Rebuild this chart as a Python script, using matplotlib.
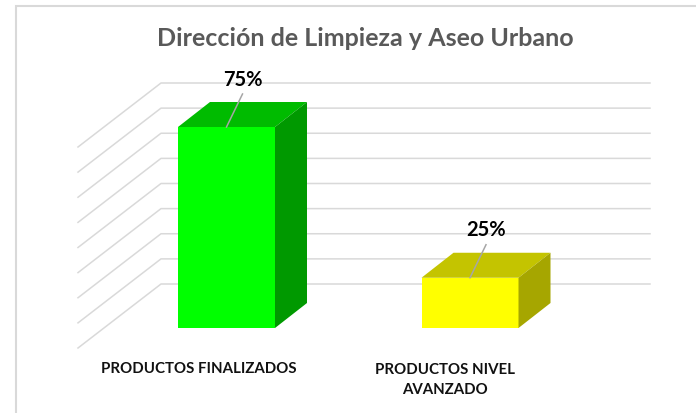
import matplotlib
matplotlib.use("Agg")
import matplotlib.pyplot as plt
from matplotlib.patches import Polygon
import numpy as np

categories = ["PRODUCTOS FINALIZADOS", "PRODUCTOS NIVEL\nAVANZADO"]
values = [75, 25]
labels = ["75%", "25%"]
front_colors = ["#00FF00", "#FFFF00"]
top_colors = ["#00BB00", "#C4C400"]
side_colors = ["#009900", "#A6A600"]
axis_min = 25 / 3
axis_step = 25 / 3
n_grid = 9

W, H = 696, 413
# pixel layout of the front plane of the bars
x0_px, x_step_px = 226.5, 243.5
base_px = 328
px_per_value = 25.125 / axis_step
half_w = 48.5
depth = (32, 25)
floor_front = (-148.5, -20)
floor_back = (-65.5, 44)
wall_right_px = 650


def pt(cat, value, dx=0, dy=0):
    # category/value position, shifted by a depth offset given in pixels
    return (cat + dx / x_step_px, value + dy / px_per_value)


fig = plt.figure(figsize=(W / 100, H / 100), dpi=100)
ax = fig.add_axes([0, 0, 1, 1])
ax.set_xlim(-x0_px / x_step_px, (W - x0_px) / x_step_px)
ax.set_ylim(axis_min - (H - base_px) / px_per_value, axis_min + base_px / px_per_value)
ax.axis("off")

plt.rcParams["font.family"] = ["Lato", "DejaVu Sans"]

# frame of the chart area
ax.plot([15.5 / W, 15.5 / W, 1], [0, 1 - 5.5 / H, 1 - 5.5 / H], transform=ax.transAxes,
        color="#D9D9D9", lw=1.5, solid_joinstyle="miter")

# floor and wall gridlines
grid_values = axis_min + axis_step * np.arange(n_grid)
right_dx = wall_right_px - x0_px
for v in grid_values:
    a = pt(0, v, *floor_front)
    b = pt(0, v, *floor_back)
    c = pt(0, v, right_dx, floor_back[1])
    ax.plot([a[0], b[0], c[0]], [a[1], b[1], c[1]], color="#D9D9D9", lw=1.1, zorder=1)

# bars
for i, v in enumerate(values):
    l, r = -half_w, half_w
    dx, dy = depth
    ax.add_patch(Polygon([pt(i, axis_min, l), pt(i, axis_min, r), pt(i, v, r), pt(i, v, l)],
                         fc=front_colors[i], ec="none", zorder=3))
    ax.add_patch(Polygon([pt(i, v, l), pt(i, v, r), pt(i, v, r + dx, dy), pt(i, v, l + dx, dy)],
                         fc=top_colors[i], ec="none", zorder=3))
    ax.add_patch(Polygon([pt(i, axis_min, r), pt(i, v, r), pt(i, v, r + dx, dy), pt(i, axis_min, r + dx, dy)],
                         fc=side_colors[i], ec="none", zorder=3))
    # leader line and label
    p0 = pt(i, v)
    p1 = pt(i, v, 16, 33)
    ax.plot([p0[0], p1[0]], [p0[1], p1[1]], color="#A6A6A6", lw=1.1, zorder=4)
    lx, ly = pt(i, v, 16, 47.5)
    ax.text(lx, ly, labels[i], ha="center", va="center", fontsize=14.5, fontweight="bold",
            color="black", zorder=5)

# category labels
ax.text(*pt(0, axis_min, -27.5, -41), categories[0], ha="center", va="center", fontsize=10.8,
        fontweight="bold", color="#111111")
ax.text(*pt(1, axis_min, -25, -52), categories[1], ha="center", va="center", fontsize=10.8,
        fontweight="bold", color="#111111", linespacing=1.5)

fig.text(365.5 / W, 1 - 38 / H, "Dirección de Limpieza y Aseo Urbano", ha="center", va="center",
         fontsize=18, fontweight="bold", color="#595959")

fig.savefig("out.png", dpi=100, facecolor="white")
